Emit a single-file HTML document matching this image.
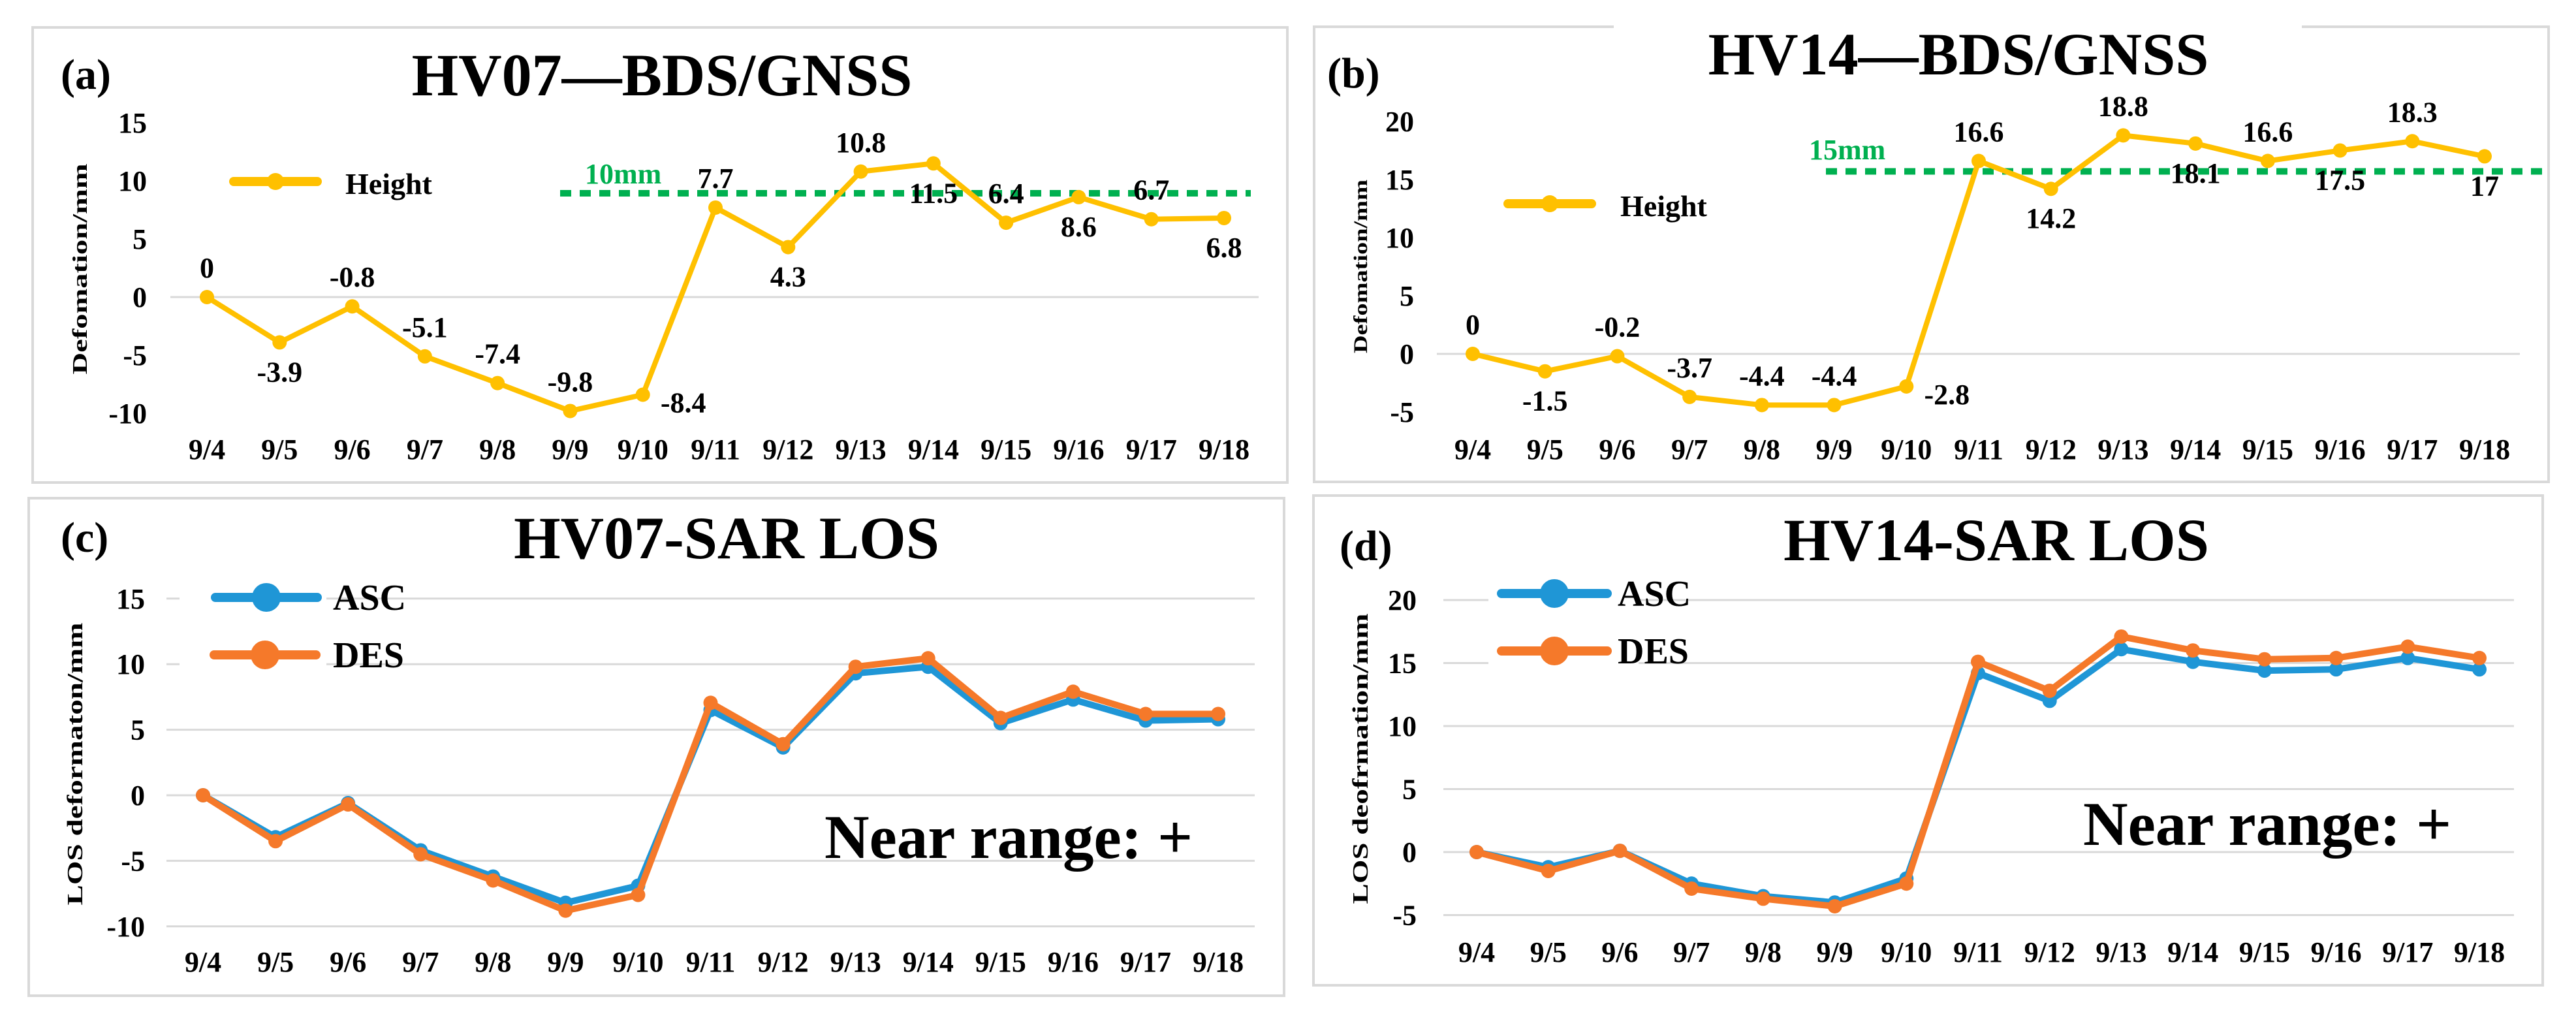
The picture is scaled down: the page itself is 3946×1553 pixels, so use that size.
<!DOCTYPE html>
<html><head><meta charset="utf-8"><style>
html,body{margin:0;padding:0;background:#fff;}
svg{display:block;font-family:"Liberation Serif",serif;font-weight:bold;}
</style></head><body>
<svg id="root" width="3946" height="1553" viewBox="0 0 3946 1553" xmlns="http://www.w3.org/2000/svg"></svg>
<script>
const dates = ["9/4","9/5","9/6","9/7","9/8","9/9","9/10","9/11","9/12","9/13","9/14","9/15","9/16","9/17","9/18"];
const heightA = [0,-3.9,-0.8,-5.1,-7.4,-9.8,-8.4,7.7,4.3,10.8,11.5,6.4,8.6,6.7,6.8];
const heightB = [0,-1.5,-0.2,-3.7,-4.4,-4.4,-2.8,16.6,14.2,18.8,18.1,16.6,17.5,18.3,17];
const ascC = [0,-3.2,-0.6,-4.2,-6.2,-8.2,-6.9,6.5,3.65,9.3,9.8,5.5,7.3,5.7,5.8];
const desC = [0,-3.5,-0.7,-4.5,-6.5,-8.8,-7.6,7.05,3.9,9.8,10.45,5.9,7.9,6.2,6.2];
const ascD = [0,-1.2,0.1,-2.5,-3.5,-4.0,-2.1,14.2,12.0,16.1,15.1,14.4,14.5,15.4,14.5];
const desD = [0,-1.5,0.1,-2.9,-3.7,-4.3,-2.5,15.1,12.8,17.1,16.0,15.3,15.4,16.3,15.4];
const ticksA = [-10,-5,0,5,10,15];
const ticksB = [-5,0,5,10,15,20];
const ticksC = [-10,-5,0,5,10,15];
const ticksD = [-5,0,5,10,15,20];
const thresholdA = 8.93;
const thresholdB = 15.7;
// label placement: 1 = above, -1 = below, 2 = right
const placeA = [1,-1,1,1,1,1,2,1,-1,1,-1,1,-1,1,-1];
const placeB = [1,-1,1,1,1,1,2,1,-1,1,-1,1,-1,1,-1];

const NS="http://www.w3.org/2000/svg";
const root=document.getElementById('root');
function mk(tag,attrs,parent,text){const e=document.createElementNS(NS,tag);for(const k in attrs)e.setAttribute(k,attrs[k]);if(text!==undefined)e.textContent=text;(parent||root).appendChild(e);return e;}

function panel(cfg){
  const g=mk('g',{});
  
  
  const box=mk('rect',{x:cfg.box[0],y:cfg.box[1],width:cfg.box[2]-cfg.box[0],height:cfg.box[3]-cfg.box[1],fill:'#fff',stroke:'#d9d9d9','stroke-width':4},g);
  
  
  if(cfg.gap){
    const gp=mk('rect',{x:cfg.gap[0],y:cfg.box[1]-6,width:cfg.gap[1]-cfg.gap[0],height:12,fill:'#fff'},g);
    
    
  }
  const x=i=>cfg.x0+(cfg.x1-cfg.x0)*i/(dates.length-1);
  const y=v=>cfg.yZero-v*cfg.per5/5;
  cfg.grid.forEach(v=>{
    const l=mk('line',{x1:cfg.gx0,x2:cfg.gx1,y1:y(v),y2:y(v),stroke:'#d9d9d9','stroke-width':3},g);
    
    
  });
  cfg.ticks.forEach(v=>{
    const t=mk('text',{x:cfg.tickX,y:y(v)+15,'text-anchor':'end','font-size':44},g,String(v));
    
    
  });
  dates.forEach((d,i)=>{
    const t=mk('text',{x:x(i),y:cfg.xLabY+15,'text-anchor':'middle','font-size':44},g,d);
    
    
  });
  const yt=mk('text',{x:0,y:0,transform:`translate(${cfg.ytX},${cfg.ytY}) rotate(-90)`,'text-anchor':'middle','font-size':cfg.ytSize,textLength:cfg.ytLen,lengthAdjust:'spacingAndGlyphs'},g,cfg.ytText);
  
  
  const tt=mk('text',{x:cfg.titleX,y:cfg.titleY+32,'text-anchor':'middle','font-size':92},g,cfg.title);
  
  
  const pl=mk('text',{x:cfg.letterX,y:cfg.letterY+22,'font-size':66},g,cfg.letter);
  
  
  if(cfg.thr!==undefined){
    const tl=mk('line',{x1:cfg.thrX0,x2:cfg.thrX1,y1:y(cfg.thr),y2:y(cfg.thr),stroke:'#00b050','stroke-width':10,'stroke-dasharray':'17 13'},g);
    
    
    const tx=mk('text',{x:cfg.thrLabX,y:cfg.thrLabY+15,'font-size':44,fill:'#00b050'},g,cfg.thrLabel);
    
    
  }
  cfg.series.forEach(s=>{
    const pts=s.values.map((v,i)=>x(i)+','+y(v)).join(' ');
    const pl2=mk('polyline',{points:pts,fill:'none',stroke:s.color,'stroke-width':s.w,'stroke-linejoin':'round'},g);
    
    
    s.values.forEach((v,i)=>{
      const c=mk('circle',{cx:x(i),cy:y(v),r:s.r,fill:s.color},g);
      
      
      if(s.labels){
        const p=s.place[i];
        let lx=x(i),ly=y(v)+15;
        if(p===1)ly=y(v)-45+15; else if(p===-1)ly=y(v)+45+15; else {lx=x(i)+62;ly=y(v)+12+15;}
        const t=mk('text',{x:lx,y:ly,'text-anchor':'middle','font-size':44},g,String(v));
        
        
      }
    });
  });
  if(cfg.legendBg){
    const lb=mk('rect',{x:cfg.legendBg[0],y:cfg.legendBg[1],width:cfg.legendBg[2],height:cfg.legendBg[3],fill:'#fff'},g);
    
    
  }
  cfg.legend.forEach(L=>{
    const lg=mk('g',{},g);
    
    
    mk('line',{x1:L.x0,x2:L.x1,y1:L.y,y2:L.y,stroke:L.color,'stroke-width':L.w,'stroke-linecap':'round'},lg);
    mk('circle',{cx:(L.x0+L.x1)/2,cy:L.y,r:L.r,fill:L.color},lg);
    mk('text',{x:L.tx,y:L.y+19,'font-size':L.fs},lg,L.text);
  });
  if(cfg.note){
    const n=mk('text',{x:cfg.note[0],y:cfg.note[1]+33,'font-size':95},g,'Near range: +');
    
    
  }
}

panel({name:'panel-a',box:[50,42,1972,739],x0:317,x1:1875,yZero:455,per5:89,grid:[0],gx0:261,gx1:1928,
  ticks:ticksA,tickX:225,xLabY:688,ytX:133,ytY:412,ytSize:32,ytLen:323,ytText:'Defomation/mm',
  title:'HV07—BDS/GNSS',titleX:1014,titleY:114,letter:'(a)',letterX:93,letterY:114,
  thr:thresholdA,thrX0:858,thrX1:1916,thrLabX:896,thrLabY:266,thrLabel:'10mm',
  series:[{name:'height',values:heightA,color:'#ffc000',w:8,r:11,labels:true,place:placeA}],
  legend:[{x0:358,x1:486,y:278,color:'#ffc000',w:14,r:13,tx:529,fs:46,text:'Height'}]});

panel({name:'panel-b',box:[2013,41,3904,738],gap:[2472,3526],x0:2256,x1:3806,yZero:542,per5:89,grid:[0],gx0:2201,gx1:3860,
  ticks:ticksB,tickX:2166,xLabY:688,ytX:2094,ytY:408,ytSize:30,ytLen:266,ytText:'Defomation/mm',
  title:'HV14—BDS/GNSS',titleX:3000,titleY:82,letter:'(b)',letterX:2033,letterY:112,
  thr:thresholdB,thrX0:2797,thrX1:3898,thrLabX:2771,thrLabY:229,thrLabel:'15mm',
  series:[{name:'height',values:heightB,color:'#ffc000',w:8,r:11,labels:true,place:placeB}],
  legend:[{x0:2310,x1:2438,y:312,color:'#ffc000',w:14,r:13,tx:2482,fs:46,text:'Height'}]});

panel({name:'panel-c',box:[44,763,1967,1525],x0:311,x1:1866,yZero:1218,per5:100.4,grid:ticksC,gx0:255,gx1:1922,
  ticks:ticksC,tickX:222,xLabY:1473,ytX:126,ytY:1170,ytSize:34,ytLen:433,ytText:'LOS deformaton/mm',
  title:'HV07-SAR LOS',titleX:1113,titleY:823,letter:'(c)',letterX:93,letterY:823,
  series:[{name:'asc',values:ascC,color:'#1f96d6',w:10,r:11},{name:'des',values:desC,color:'#f5792a',w:10,r:11}],
  legendBg:[275,880,225,160],
  legend:[{x0:330,x1:486,y:915,color:'#1f96d6',w:14,r:22,tx:510,fs:56,text:'ASC'},
          {x0:328,x1:484,y:1003,color:'#f5792a',w:14,r:22,tx:510,fs:56,text:'DES'}],
  note:[1263,1281]});

panel({name:'panel-d',box:[2012,759,3895,1509],x0:2262,x1:3798,yZero:1305,per5:96.5,grid:ticksD,gx0:2211,gx1:3851,
  ticks:ticksD,tickX:2170,xLabY:1458,ytX:2095,ytY:1162,ytSize:34,ytLen:445,ytText:'LOS deofrmation/mm',
  title:'HV14-SAR LOS',titleX:3058,titleY:826,letter:'(d)',letterX:2052,letterY:836,
  series:[{name:'asc',values:ascD,color:'#1f96d6',w:10,r:11},{name:'des',values:desD,color:'#f5792a',w:10,r:11}],
  legendBg:[2280,870,230,165],
  legend:[{x0:2300,x1:2462,y:909,color:'#1f96d6',w:14,r:22,tx:2478,fs:56,text:'ASC'},
          {x0:2300,x1:2462,y:997,color:'#f5792a',w:14,r:22,tx:2478,fs:56,text:'DES'}],
  note:[3191,1261]});
</script>
</body></html>
